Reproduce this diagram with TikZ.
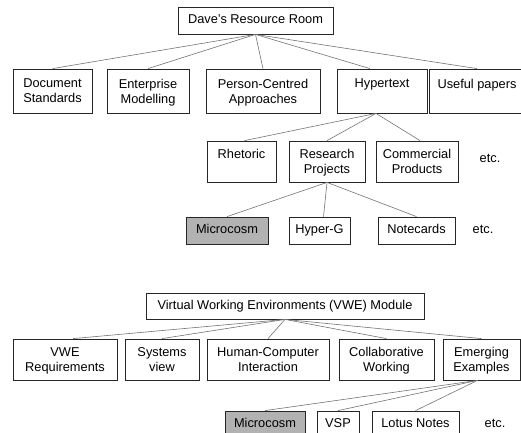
\documentclass[tikz,border=0pt]{standalone}
\usepackage{fontspec}
\setmainfont{Liberation Sans}
% two lines of a box, centred on the capital height
\newcommand{\twoline}[2]{\vphantom{X}#1\\\smash{#2}}
\begin{document}
\begin{tikzpicture}[x=1pt, y=-1pt]
    % Define styles
    \tikzset{
        topic/.style={draw=black!85, line width=0.8pt, inner sep=0pt, align=center,
            font=\fontsize{12.8}{15}\selectfont},
        chosen/.style={topic, fill=gray!60},
        link/.style={gray!90!black, line width=0.6pt},
        etcnote/.style={inner sep=0pt, font=\fontsize{12.8}{15}\selectfont}
    }
    \useasboundingbox (0,0) rectangle (521,432);

    % Resource room tree (top)
    \node[topic, minimum width=155, minimum height=27] (dave) at (255.5,20.5) {Dave's Resource Room\strut};

    \node[topic, minimum width=79, minimum height=44] (docstd) at (52.5,91) {\twoline{Document}{Standards}};
    \node[topic, minimum width=82, minimum height=44] (entmod) at (148,91) {\twoline{Enterprise}{Modelling}};
    \node[topic, minimum width=114, minimum height=44] (person) at (263,91) {\twoline{Person-Centred}{Approaches}};
    \node[topic, minimum width=90, minimum height=44] (hyper) at (382,91) {\twoline{Hypertext}{}};
    \node[topic, minimum width=95, minimum height=44] (useful) at (477,91) {\twoline{Useful papers}{}};

    \node[topic, minimum width=69, minimum height=41] (rhet) at (241.5,161.5) {\twoline{Rhetoric}{}};
    \node[topic, minimum width=76, minimum height=41] (resproj) at (327,161.5) {\twoline{Research}{Projects}};
    \node[topic, minimum width=82, minimum height=41] (commprod) at (417,161.5) {\twoline{Commercial}{Products}};
    \node[etcnote] (etcA) at (490,158) {etc.};

    \node[chosen, minimum width=82, minimum height=27] (microA) at (227,230.5) {Microcosm\strut};
    \node[topic, minimum width=61, minimum height=27] (hyperg) at (319.5,230.5) {Hyper-G\strut};
    \node[topic, minimum width=77, minimum height=27] (notecards) at (416.5,230.5) {Notecards\strut};
    \node[etcnote] (etcB) at (483,229) {etc.};

    \draw[link] (dave.south) -- (docstd.north);
    \draw[link] (dave.south) -- (entmod.north);
    \draw[link] (dave.south) -- (person.north);
    \draw[link] (dave.south) -- ([xshift=-12]hyper.north);
    \draw[link] (dave.south) -- (useful.north);

    \draw[link] ([xshift=-6]hyper.south) -- ([xshift=3]rhet.north);
    \draw[link] ([xshift=-6]hyper.south) -- (resproj.north);
    \draw[link] ([xshift=-6]hyper.south) -- ([xshift=3]commprod.north);

    \draw[link] (resproj.south) -- (microA.north);
    \draw[link] (resproj.south) -- ([xshift=4]hyperg.north);
    \draw[link] (resproj.south) -- (notecards.north);

    % VWE module tree (bottom)
    \node[topic, minimum width=278, minimum height=26] (vwe) at (285,306) {Virtual Working Environments (VWE) Module\strut};

    \node[topic, minimum width=104, minimum height=41] (vwereq) at (65,359.5) {\twoline{VWE}{Requirements}};
    \node[topic, minimum width=74, minimum height=41] (sysview) at (162,359.5) {\twoline{Systems}{view}};
    \node[topic, minimum width=122, minimum height=41] (hci) at (268,359.5) {\twoline{Human-Computer}{Interaction}};
    \node[topic, minimum width=95, minimum height=41] (collab) at (386.5,359.5) {\twoline{Collaborative}{Working}};
    \node[topic, minimum width=77, minimum height=41] (emerg) at (481.5,359.5) {\twoline{Emerging}{Examples}};

    \node[chosen, minimum width=80, minimum height=27] (microB) at (265,424.5) {Microcosm\strut};
    \node[topic, minimum width=42, minimum height=27] (vsp) at (338,424.5) {VSP\strut};
    \node[topic, minimum width=87, minimum height=27] (lotus) at (415.5,424.5) {Lotus Notes\strut};
    \node[etcnote] (etcC) at (495,423) {etc.};

    \draw[link] (vwe.south) -- ([xshift=8]vwereq.north);
    \draw[link] (vwe.south) -- (sysview.north);
    \draw[link] (vwe.south) -- (hci.north);
    \draw[link] (vwe.south) -- (collab.north);
    \draw[link] (vwe.south) -- (emerg.north);

    \draw[link] ([xshift=-4]emerg.south) -- (microB.north);
    \draw[link] ([xshift=-4]emerg.south) -- (vsp.north);
    \draw[link] ([xshift=-4]emerg.south) -- (lotus.north);

\end{tikzpicture}
\end{document}
